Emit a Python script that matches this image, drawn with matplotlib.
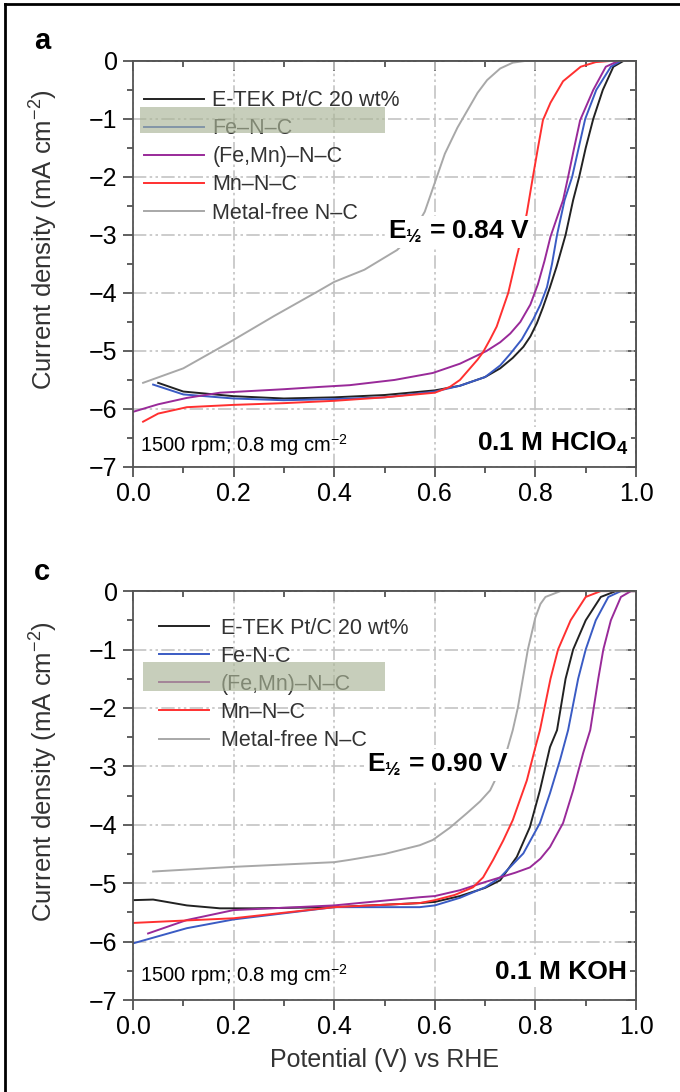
"""
ORR polarization curves, acid (a) and alkaline (c) panels.
"""

import matplotlib
matplotlib.use('Agg')
import matplotlib.pyplot as plt
from matplotlib.patches import Rectangle
from matplotlib.lines import Line2D
from matplotlib.ticker import MultipleLocator, FixedLocator

plt.rcParams['font.family'] = ['Liberation Sans Narrow', 'Liberation Sans', 'DejaVu Sans']
plt.rcParams['mathtext.default'] = 'regular'
SANS = ['Liberation Sans', 'DejaVu Sans']

# ---- panel a: 0.1 M HClO4 ----
a_pt_x = [0.05, 0.1, 0.2, 0.3, 0.4, 0.5, 0.6, 0.65, 0.7, 0.73, 0.755, 0.776, 0.79, 0.803, 0.815, 0.829, 0.842,
          0.86, 0.875, 0.887, 0.9, 0.915, 0.934, 0.955, 0.975, 1.0]
a_pt_y = [-5.55, -5.7, -5.78, -5.82, -5.8, -5.76, -5.68, -5.6, -5.45, -5.3, -5.12, -4.93, -4.75, -4.52, -4.25, -3.9, -3.55,
          -3.0, -2.4, -2.0, -1.5, -1.0, -0.5, -0.1, 0.0, 0.0]

a_fe_x = [0.04, 0.1, 0.2, 0.3, 0.4, 0.5, 0.6, 0.65, 0.7, 0.73, 0.75, 0.773, 0.796, 0.81, 0.823, 0.833, 0.843,
          0.858, 0.873, 0.886, 0.899, 0.921, 0.95, 0.97, 1.0]
a_fe_y = [-5.58, -5.75, -5.82, -5.85, -5.83, -5.8, -5.7, -5.6, -5.45, -5.25, -5.05, -4.8, -4.45, -4.2, -3.9, -3.5, -3.0,
          -2.4, -2.0, -1.5, -1.0, -0.5, -0.1, 0.0, 0.0]

a_femn_x = [0.0, 0.05, 0.107, 0.173, 0.3, 0.372, 0.431, 0.52, 0.596, 0.65, 0.703, 0.73, 0.75, 0.77, 0.79, 0.805,
            0.818, 0.83, 0.843, 0.855, 0.865, 0.877, 0.889, 0.915, 0.94, 0.965, 1.0]
a_femn_y = [-6.05, -5.92, -5.81, -5.72, -5.66, -5.62, -5.59, -5.5, -5.38, -5.22, -5.0, -4.85, -4.7, -4.5, -4.2, -3.85,
            -3.45, -3.03, -2.7, -2.4, -2.0, -1.5, -1.02, -0.5, -0.1, 0.0, 0.0]

a_mn_x = [0.02, 0.05, 0.107, 0.2, 0.3, 0.4, 0.5, 0.6, 0.63, 0.65, 0.67, 0.685, 0.696, 0.71, 0.723, 0.746, 0.763,
          0.776, 0.783, 0.795, 0.805, 0.815, 0.83, 0.855, 0.89, 0.92, 0.95, 1.0]
a_mn_y = [-6.22, -6.08, -5.97, -5.93, -5.9, -5.86, -5.8, -5.72, -5.62, -5.5, -5.3, -5.15, -5.02, -4.8, -4.58, -4.0, -3.37,
          -2.92, -2.62, -2.0, -1.5, -1.02, -0.72, -0.35, -0.1, -0.02, 0.0, 0.0]

a_nc_x = [0.02, 0.1, 0.19, 0.28, 0.366, 0.4, 0.46, 0.525, 0.55, 0.58, 0.6, 0.62, 0.645, 0.665, 0.685, 0.704, 0.73,
          0.755, 0.78, 1.0]
a_nc_y = [-5.55, -5.3, -4.86, -4.4, -3.98, -3.81, -3.6, -3.26, -3.05, -2.6, -2.1, -1.6, -1.15, -0.85, -0.55, -0.33, -0.13,
          -0.03, 0.0, 0.0]

# ---- panel c: 0.1 M KOH ----
c_pt_x = [0.0, 0.04, 0.107, 0.173, 0.24, 0.4, 0.57, 0.6, 0.65, 0.7, 0.73, 0.763, 0.789, 0.809, 0.829, 0.843, 0.86,
          0.875, 0.9, 0.93, 0.96, 1.0]
c_pt_y = [-5.29, -5.28, -5.38, -5.43, -5.43, -5.41, -5.34, -5.32, -5.22, -5.08, -4.95, -4.55, -4.04, -3.41, -2.67, -2.38,
          -1.5, -1.0, -0.5, -0.1, 0.0, 0.0]

c_fe_x = [0.0, 0.107, 0.2, 0.4, 0.57, 0.6, 0.65, 0.7, 0.73, 0.776, 0.809, 0.829, 0.849, 0.865, 0.885, 0.9, 0.92,
          0.945, 0.97, 1.0]
c_fe_y = [-6.03, -5.77, -5.62, -5.41, -5.41, -5.38, -5.25, -5.07, -4.9, -4.49, -3.97, -3.46, -2.89, -2.38, -1.5, -1.0,
          -0.5, -0.1, 0.0, 0.0]

c_femn_x = [0.03, 0.107, 0.2, 0.4, 0.57, 0.6, 0.65, 0.7, 0.73, 0.76, 0.789, 0.81, 0.829, 0.855, 0.875, 0.895, 0.909,
            0.925, 0.935, 0.95, 0.97, 0.99, 1.0]
c_femn_y = [-5.86, -5.63, -5.46, -5.38, -5.24, -5.22, -5.12, -4.98, -4.9, -4.82, -4.73, -4.58, -4.38, -3.97, -3.41, -2.77,
            -2.38, -1.5, -1.0, -0.5, -0.1, 0.0, 0.0]

c_mn_x = [0.0, 0.2, 0.4, 0.57, 0.6, 0.64, 0.676, 0.696, 0.716, 0.736, 0.755, 0.783, 0.8, 0.809, 0.83, 0.845, 0.87,
          0.9, 0.93, 1.0]
c_mn_y = [-5.68, -5.6, -5.41, -5.34, -5.29, -5.2, -5.07, -4.9, -4.6, -4.27, -3.92, -3.24, -2.67, -2.38, -1.5, -1.0,
          -0.5, -0.1, 0.0, 0.0]

c_nc_x = [0.04, 0.2, 0.4, 0.431, 0.5, 0.57, 0.596, 0.63, 0.664, 0.69, 0.71, 0.736, 0.755, 0.765, 0.775, 0.785, 0.8,
          0.81, 0.82, 0.85, 1.0]
c_nc_y = [-4.8, -4.72, -4.64, -4.6, -4.5, -4.35, -4.26, -4.05, -3.8, -3.6, -3.41, -2.95, -2.38, -2.0, -1.5, -1.0, -0.45,
          -0.22, -0.1, 0.0, 0.0]

labels_a = ['E-TEK Pt/C 20 wt%', 'Fe–N–C', '(Fe,Mn)–N–C', 'Mn–N–C', 'Metal-free N–C']
labels_c = ['E-TEK Pt/C 20 wt%', 'Fe-N-C', '(Fe,Mn)–N–C', 'Mn–N–C', 'Metal-free N–C']
colors = ['#222222', '#3a5bc4', '#992a99', '#ff3030', '#a8a8a8']

x_ticks = [0.0, 0.2, 0.4, 0.6, 0.8, 1.0]
x_tick_labels = ['0.0', '0.2', '0.4', '0.6', '0.8', '1.0']
y_ticks = [0, -1, -2, -3, -4, -5, -6, -7]
y_tick_labels = ['0', '−1', '−2', '−3', '−4', '−5', '−6', '−7']


def style_axes(ax):
    ax.set_xlim(0, 1.0)
    ax.set_ylim(-7, 0)
    ax.set_xticks(x_ticks)
    ax.set_xticklabels(x_tick_labels)
    ax.set_yticks(y_ticks)
    ax.set_yticklabels(y_tick_labels)
    ax.xaxis.set_minor_locator(MultipleLocator(0.1))
    ax.yaxis.set_minor_locator(MultipleLocator(0.5))
    ax.grid(True, which='major', color='#c4c4c4', linewidth=1.2,
            linestyle=(0, (8, 2, 1.5, 2, 1.5, 2)))
    ax.tick_params(which='major', direction='out', length=7, width=1.2,
                   color='#444444', labelsize=18, pad=4)
    ax.tick_params(which='minor', direction='out', length=4, width=1.2, color='#444444')
    for sp in ax.spines.values():
        sp.set_color('#555555')
        sp.set_linewidth(1.3)
    # inward ticks on top and right
    top = ax.secondary_xaxis('top')
    top.xaxis.set_major_locator(FixedLocator(x_ticks))
    top.xaxis.set_minor_locator(MultipleLocator(0.1))
    top.tick_params(which='both', direction='in', labeltop=False, color='#444444', width=1.2)
    top.tick_params(which='major', length=7)
    top.tick_params(which='minor', length=4)
    right = ax.secondary_yaxis('right')
    right.yaxis.set_major_locator(FixedLocator(y_ticks))
    right.yaxis.set_minor_locator(MultipleLocator(0.5))
    right.tick_params(which='both', direction='in', labelright=False, color='#444444', width=1.2)
    right.tick_params(which='major', length=7)
    right.tick_params(which='minor', length=4)
    for sec in (top, right):
        for sp in sec.spines.values():
            sp.set_color('#555555')
            sp.set_linewidth(1.3)
    ax.set_ylabel('Current density (mA cm$^{-2}$)', fontsize=18.5, family=SANS, color='#333333')
    ax.yaxis.set_label_coords(-0.145, 0.56)


fig = plt.figure(figsize=(6.8, 10.92), dpi=100)
ax_a = fig.add_axes([0.1956, 0.5724, 0.7397, 0.3718])
ax_c = fig.add_axes([0.1956, 0.0842, 0.7397, 0.3745])

series_a = [(a_pt_x, a_pt_y), (a_fe_x, a_fe_y), (a_femn_x, a_femn_y), (a_mn_x, a_mn_y), (a_nc_x, a_nc_y)]
series_c = [(c_pt_x, c_pt_y), (c_fe_x, c_fe_y), (c_femn_x, c_femn_y), (c_mn_x, c_mn_y), (c_nc_x, c_nc_y)]

for ax, series, labels in [(ax_a, series_a, labels_a), (ax_c, series_c, labels_c)]:
    style_axes(ax)
    for (xs, ys), col, lab in zip(series, colors, labels):
        ax.plot(xs, ys, color=col, linewidth=1.4, label=lab)

# legends
leg_a = ax_a.legend(loc='upper left', bbox_to_anchor=(0.022, 0.928), frameon=False,
                    prop={'family': SANS, 'size': 15.5}, handlelength=2.8, handletextpad=0.37,
                    labelspacing=0.33, borderpad=0, borderaxespad=0)
leg_c = ax_c.legend(loc='upper left', bbox_to_anchor=(0.052, 0.935), frameon=False,
                    prop={'family': SANS, 'size': 15.5}, handlelength=2.3, handletextpad=0.56,
                    labelspacing=0.33, borderpad=0, borderaxespad=0)
for leg in (leg_a, leg_c):
    for t in leg.get_texts():
        t.set_color('#333333')

# highlight boxes over one legend entry each
ax_a.add_patch(Rectangle((0.014, 0.823), 0.487, 0.064, transform=ax_a.transAxes,
                         facecolor='#aab597', alpha=0.65, edgecolor='none', zorder=10))
ax_c.add_patch(Rectangle((0.02, 0.755), 0.481, 0.071, transform=ax_c.transAxes,
                         facecolor='#aab597', alpha=0.65, edgecolor='none', zorder=10))

# annotations
box = dict(facecolor='white', edgecolor='none', pad=2)
ax_a.text(0.507, -2.95, 'E$_{½}$ = 0.84 V', fontsize=19, fontweight='bold',
          family=SANS, va='center', ha='left', bbox=box, zorder=6)
ax_c.text(0.465, -2.98, 'E$_{½}$ = 0.90 V', fontsize=19, fontweight='bold',
          family=SANS, va='center', ha='left', bbox=box, zorder=6)

ax_a.text(0.014, 0.054, '1500 rpm; 0.8 mg cm$^{-2}$', transform=ax_a.transAxes,
          fontsize=14.5, family=SANS, va='center', ha='left', zorder=6)
ax_c.text(0.014, 0.061, '1500 rpm; 0.8 mg cm$^{-2}$', transform=ax_c.transAxes,
          fontsize=14.5, family=SANS, va='center', ha='left', zorder=6)
ax_a.text(0.985, 0.058, '0.1 M HClO$_4$', transform=ax_a.transAxes, fontsize=19,
          fontweight='bold', family=SANS, va='center', ha='right', bbox=box, zorder=6)
ax_c.text(0.982, 0.068, '0.1 M KOH', transform=ax_c.transAxes, fontsize=19,
          fontweight='bold', family=SANS, va='center', ha='right', bbox=box, zorder=6)

ax_c.set_xlabel('Potential (V) vs RHE', fontsize=18, labelpad=6, family=SANS, color='#333333')

# panel letters
fig.text(0.062, 0.962, 'a', fontsize=21, fontweight='bold', family=SANS, ha='center', va='center')
fig.text(0.062, 0.476, 'c', fontsize=21, fontweight='bold', family=SANS, ha='center', va='center')

# outer frame (left and top edges visible)
fig.add_artist(Line2D([0.008, 0.008], [0.0, 0.996], color='black', linewidth=2,
                      transform=fig.transFigure))
fig.add_artist(Line2D([0.008, 1.0], [0.996, 0.996], color='black', linewidth=2,
                      transform=fig.transFigure))

plt.savefig('out.png', dpi=100)
